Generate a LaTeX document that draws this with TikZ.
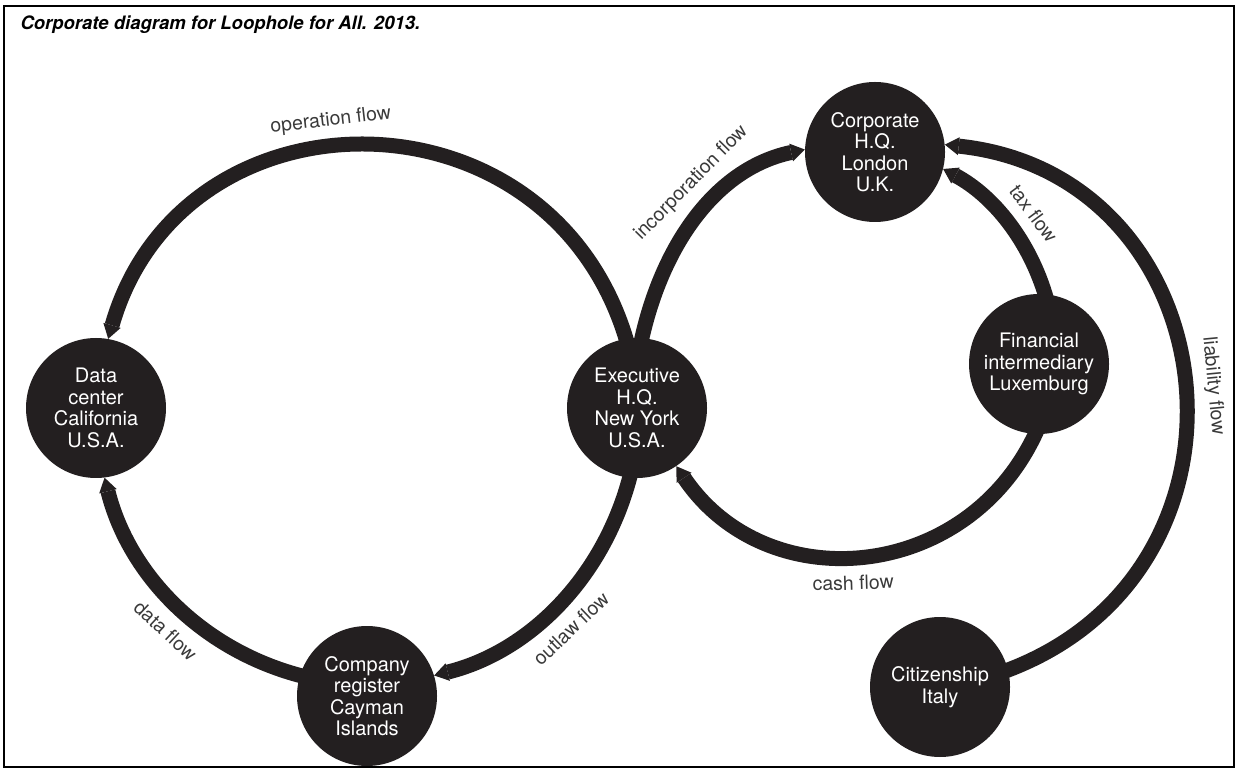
\documentclass[tikz,border=0pt]{standalone}
\usepackage{fontspec}
\setmainfont{TeX Gyre Heros}
\usetikzlibrary{arrows.meta}
\definecolor{ink}{HTML}{231F20}
\definecolor{labelgrey}{HTML}{3A3A3A}

\begin{document}
\begin{tikzpicture}[x=1pt, y=1pt,
    place/.style={circle, fill=ink, minimum size=140pt, inner sep=0pt, align=center,
        text=white, font=\fontsize{20}{21.5}\selectfont},
    flow/.style={draw=ink, line width=15pt},
    into/.style={-{Triangle[length=14pt, width=18pt, line width=0pt]}},
    flowlabel/.style={sloped, inner sep=0pt, text=labelgrey, font=\fontsize{19.5}{21}\selectfont}]
    % Frame and title
    \useasboundingbox (0, 0) rectangle (1238, 771);
    \draw [line width=2pt] (4, 4) rectangle (1234, 764.5);
    \node [anchor=base west, font=\bfseries\itshape\fontsize{18.5}{20}\selectfont] (title) at (17, 741)
        {Corporate diagram for Loophole for All. 2013.};

    % Places
    \node [place] (dc) at (96, 363) {Data\\center\\California\\U.S.A.};
    \node [place] (ny) at (637, 363) {Executive\\H.Q.\\New York\\U.S.A.};
    \node [place] (cay) at (367, 75) {Company\\register\\Cayman\\Islands};
    \node [place] (lon) at (875, 619) {Corporate\\H.Q.\\London\\U.K.};
    \node [place] (lux) at (1039, 407) {Financial\\intermediary\\Luxemburg};
    \node [place] (ita) at (940, 84) {Citizenship\\Italy};

    % Left loop
    \draw [flow, into, shorten <=-5pt] (ny.99) to [out=106, in=74, looseness=1.33]
        node [flowlabel, pos=0.55, above=10pt] {operation flow} (dc.80);
    \draw [flow, into, shorten <=-5pt] (cay.163) to [out=166, in=-76, looseness=0.92]
        node [flowlabel, pos=0.46, below=11pt] {data flow} (dc.-83);
    \draw [flow, into, shorten <=-5pt] (ny.264) to [out=256, in=14, looseness=0.92]
        node [flowlabel, pos=0.53, below=11pt] {outlaw flow} (cay.17);

    % Right loop
    \draw [flow, into, shorten <=-5pt] (ny.86) to [out=78, in=192, looseness=0.95]
        node [flowlabel, pos=0.58, above=10pt] {incorporation flow} (lon.178);
    \draw [flow, into, shorten <=-5pt] (lux.85) to [out=106, in=-28, looseness=0.89]
        node [flowlabel, pos=0.44, above=11pt] {tax flow} (lon.-14);
    \draw [flow, into, shorten <=-5pt] (lux.267) to [out=246, in=-56, looseness=1.15]
        node [flowlabel, pos=0.53, below=11pt] {cash flow} (ny.-56);
    \draw [flow, into, shorten <=-5pt] (ita.14) to [out=20, in=-6, looseness=1.39]
        node [flowlabel, pos=0.49, above=11pt] {liability flow} (lon.6);
\end{tikzpicture}
\end{document}
